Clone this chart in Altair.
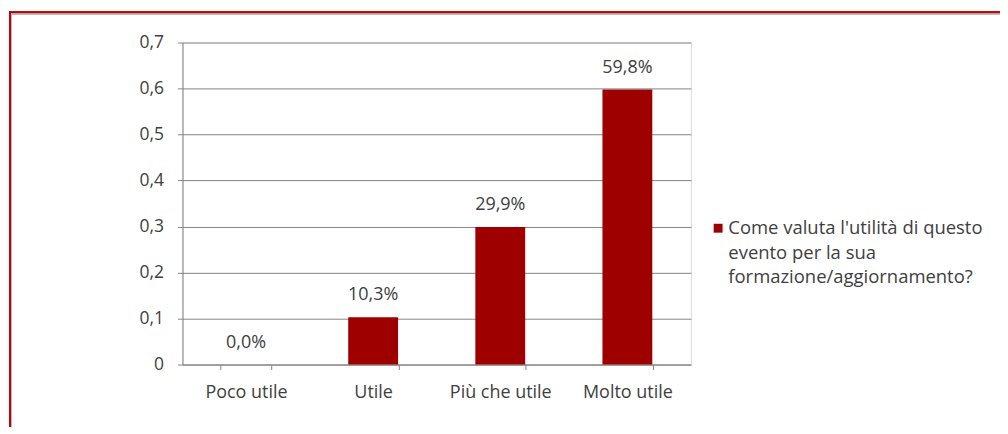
import altair as alt
import pandas as pd

categories = ["Poco utile", "Utile", "Più che utile", "Molto utile"]
values = [0.0, 0.103, 0.299, 0.598]
labels = ["0,0%", "10,3%", "29,9%", "59,8%"]
series = "Come valuta l'utilità di questo|evento per la sua|formazione/aggiornamento?"

df = pd.DataFrame({"cat": categories, "val": values, "lab": labels, "series": [series] * 4})

FONT = "Open Sans"
TXT = "#404040"
GRID = "#868686"
RED = "#9e0000"

x = alt.X("cat:N", sort=categories, title=None,
          scale=alt.Scale(paddingInner=0.6, paddingOuter=0.3),
          axis=alt.Axis(labelAngle=0, labelFontSize=18, labelColor=TXT, labelFont=FONT,
                        labelPadding=14, tickBand="extent", tickColor=GRID, tickSize=5,
                        domainColor=GRID, grid=False))
y = alt.Y("val:Q", title=None,
          scale=alt.Scale(domain=[0, 0.7], nice=False),
          axis=alt.Axis(values=[0, 0.1, 0.2, 0.3, 0.4, 0.5, 0.6, 0.7],
                        labelExpr="datum.value == 0 ? '0' : replace(format(datum.value, '.1f'), '.', ',')",
                        labelFontSize=17.5, labelColor=TXT, labelFont=FONT, labelPadding=14,
                        tickColor=GRID, tickSize=5, domainColor=GRID,
                        grid=True, gridColor=GRID, gridWidth=1))

bars = alt.Chart(df).mark_bar(size=50).encode(
    x=x, y=y,
    color=alt.Color("series:N", scale=alt.Scale(range=[RED]),
                    legend=alt.Legend(title=None, orient="none", legendX=528, legendY=177,
                                      symbolType="square", symbolSize=80, symbolStrokeWidth=0,
                                      labelFontSize=18.5, labelColor=TXT, labelFont=FONT,
                                      labelExpr="split(datum.label, '|')", labelLimit=400,
                                      labelOffset=1))
)

text = alt.Chart(df).mark_text(dy=-22, fontSize=18, color=TXT, font=FONT).encode(
    x=alt.X("cat:N", sort=categories), y="val:Q", text="lab:N")

border_top = alt.Chart(df).mark_rule(color="#c00000", strokeWidth=2).encode(
    x=alt.value(-174), x2=alt.value(830), y=alt.value(-30))
border_left = alt.Chart(df).mark_rule(color="#c00000", strokeWidth=2).encode(
    x=alt.value(-173), y=alt.value(-31), y2=alt.value(400))
shadow_top = alt.Chart(df).mark_rule(color="#bbbbbb", strokeWidth=1).encode(
    x=alt.value(-172), x2=alt.value(830), y=alt.value(-28.5))
shadow_left = alt.Chart(df).mark_rule(color="#bbbbbb", strokeWidth=1).encode(
    x=alt.value(-171.5), y=alt.value(-29), y2=alt.value(400))

chart = alt.layer(bars, text, border_top, border_left, shadow_top, shadow_left).properties(
    width=510, height=323,
    autosize=alt.AutoSizeParams(type="none"),
    padding={"left": 175, "top": 34, "right": 310, "bottom": 62},
).configure_view(stroke=None).configure(
    background="white", style={"guide-label": {"lineHeight": 24.5}})

chart.save("out.html", embed_options={"renderer": "svg", "actions": False})
